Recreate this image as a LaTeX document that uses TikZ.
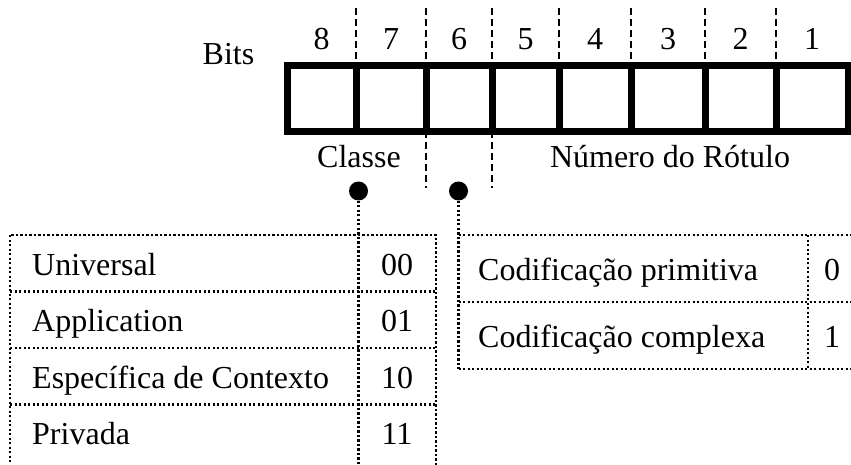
\documentclass[tikz,border=0pt]{standalone}
\usepackage{fontspec}
\setmainfont{Liberation Serif}
\usepackage{tikz}
\usetikzlibrary{positioning}

\begin{document}
\begin{tikzpicture}[x=1pt,y=-1pt,
  every node/.style={font=\fontsize{32}{38}\selectfont,inner sep=0pt},
  bitbox/.style={line width=7pt},
  sep/.style={line width=2.6pt,dash pattern=on 7pt off 4pt},
  dotline/.style={line width=2.3pt,dash pattern=on 2.3pt off 2.2pt},
  ball/.style={circle,fill,minimum size=19pt}]
\useasboundingbox[fill=white](0,0) rectangle (851,465);
\node[anchor=base] (bits) at (228.5,65) {Bits};
\foreach \l/\r [count=\i] in {287/356,356/426,426/492,492/559,559/631,631/705,705/776,776/848}{
  \pgfmathtruncatemacro\b{9-\i}
  \node[anchor=base] (n\b) at ({(\l+\r)/2},50) {\b};
}
\foreach \x in {356,426,492,559,631,705,776}
  \draw[sep](\x,8)--(\x,66);
\draw[sep](426,131)--(426,188);
\draw[sep](492,131)--(492,188);
\draw[bitbox](287,66) rectangle (848,131.5);
\foreach \x in {356,426,492,559,631,705,776}
  \draw[bitbox](\x,66)--(\x,131.5);
\node[anchor=base] (classe) at (359,168) {Classe};
\node[anchor=base] (rotulo) at (670,168) {Número do Rótulo};
\coordinate (lbot) at (358.5,470);
\coordinate (rbot) at (458.5,369);
\draw[dotline](10,235) rectangle (436,470);
\draw[dotline](10,291.5)--(436,291.5);
\draw[dotline](10,348)--(436,348);
\draw[dotline](10,404.5)--(436,404.5);
\draw[dotline](458.5,235)--(870,235);
\draw[dotline](458.5,302)--(870,302);
\draw[dotline](458.5,369)--(870,369);
\draw[dotline](808,235)--(808,369);
\node[ball] (cls) at (358.5,191) {};
\node[ball] (enc) at (458.5,191) {};
\draw[dotline](cls)--(lbot);
\draw[dotline](enc)--(rbot);
\node[anchor=base west] (univ) at (32,275) {Universal};
\node[anchor=base west] (appl) at (32,331.5) {Application};
\node[anchor=base west] (espc) at (32,388) {Específica de Contexto};
\node[anchor=base west] (priv) at (32,444.5) {Privada};
\node[anchor=base] (v00) at (397,275) {00};
\node[anchor=base] (v01) at (397,331.5) {01};
\node[anchor=base] (v10) at (397,388) {10};
\node[anchor=base] (v11) at (397,444.5) {11};
\node[anchor=base west] (prim) at (478,280) {Codificação primitiva};
\node[anchor=base west] (comp) at (478,347) {Codificação complexa};
\node[anchor=base] (v0) at (832,280) {0};
\node[anchor=base] (v1) at (832,347) {1};
\end{tikzpicture}
\end{document}
